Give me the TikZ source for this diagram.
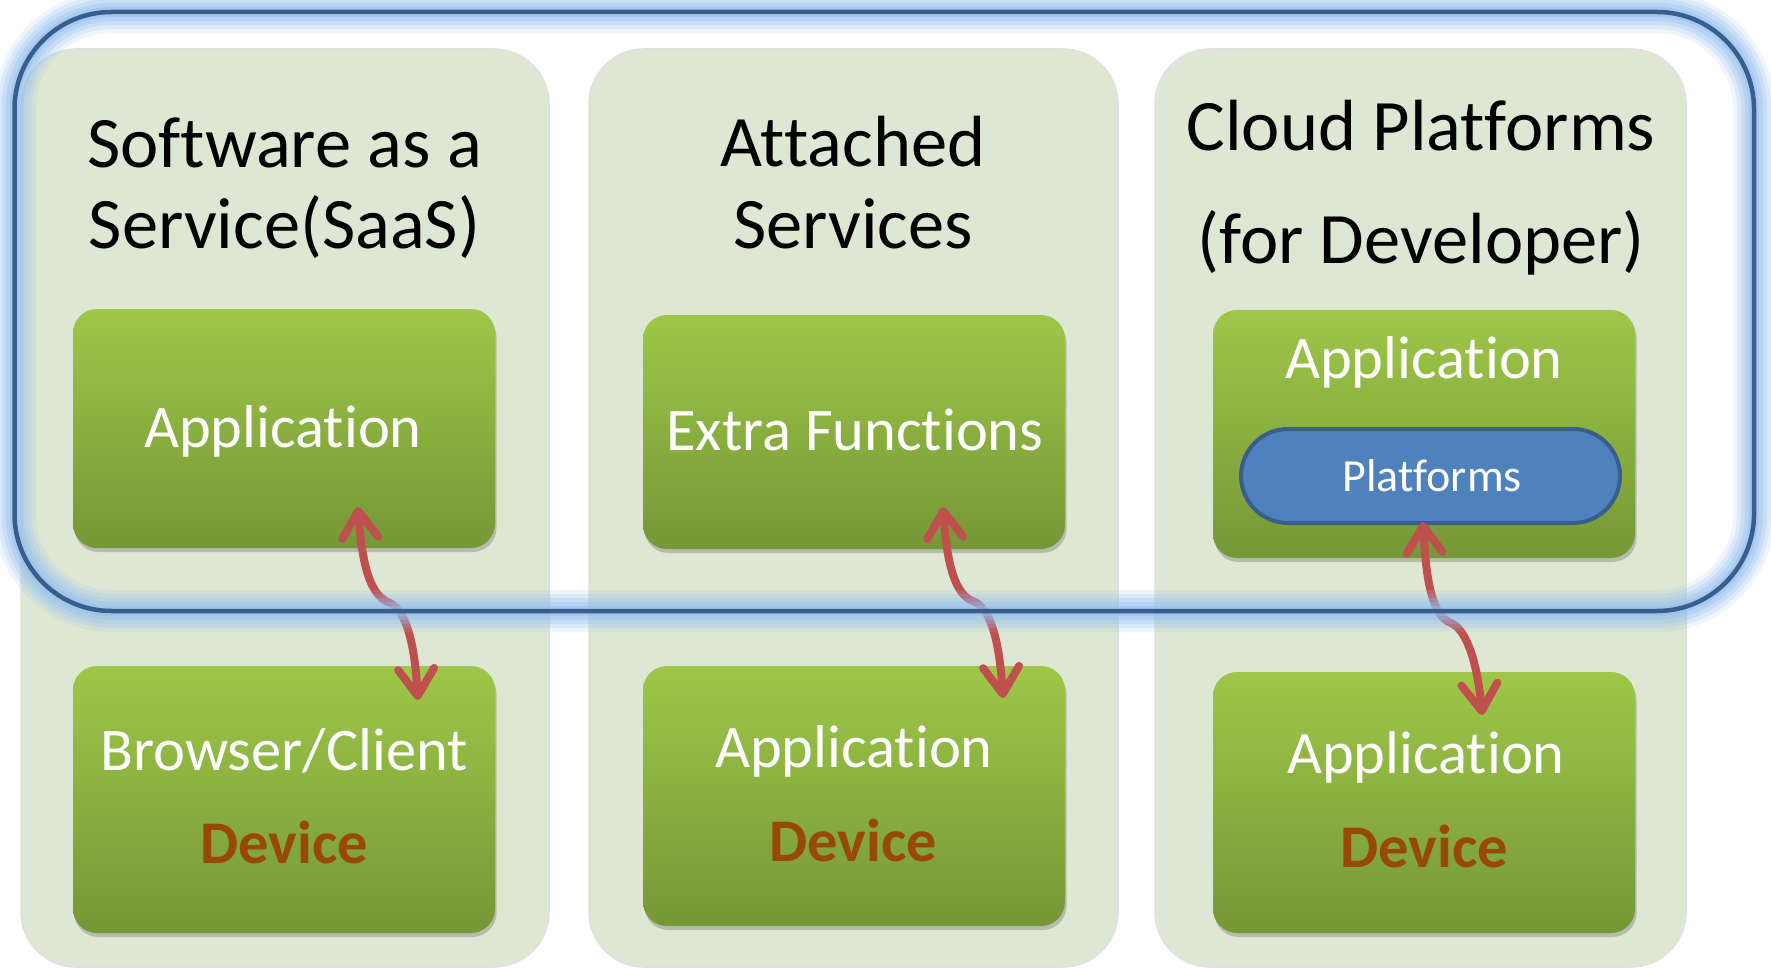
\documentclass[tikz,border=0pt]{standalone}
\usepackage{fontspec}
\setmainfont[Ligatures=NoCommon]{Carlito}
\usetikzlibrary{arrows.meta,shadows}
\definecolor{panelc}{RGB}{222,231,211}
\definecolor{gtop}{RGB}{158,199,72}
\definecolor{gbot}{RGB}{118,151,55}
\definecolor{arrc}{RGB}{192,80,77}
\definecolor{linec}{RGB}{58,94,140}
\definecolor{glowc}{RGB}{145,190,240}
\definecolor{pillc}{RGB}{79,129,189}
\definecolor{devc}{RGB}{152,72,7}
\tikzset{
  panel/.style={rectangle, rounded corners=55pt, fill=panelc, draw=black!12, line width=1.5pt, inner sep=0pt},
  gbox/.style={rectangle, rounded corners=24pt, top color=gtop, bottom color=gbot, draw=none, inner sep=0pt,
    minimum width=422pt,
    drop shadow={shadow xshift=1.5pt, shadow yshift=-4pt, opacity=0.28, fill=black!70}},
  pill/.style={rectangle, rounded corners=47pt, fill=pillc, draw=linec, line width=4pt, inner sep=0pt,
    minimum width=379pt, minimum height=94pt},
  head/.style={anchor=base, inner sep=0pt, text=black, font=\fontsize{72.5}{80}\selectfont},
  lbl/.style={anchor=base, inner sep=0pt, text=white, font=\fontsize{60.5}{66}\selectfont},
  dev/.style={anchor=base, inner sep=0pt, text=devc, font=\fontsize{60.5}{66}\selectfont\bfseries},
  plbl/.style={anchor=base, inner sep=0pt, text=white, font=\fontsize{46}{50}\selectfont},
  arr/.style={draw=arrc, line width=8pt, line cap=round, line join=round,
    arrows={Straight Barb[length=27pt,width=36pt,round]-Straight Barb[length=27pt,width=36pt,round]}},
  glow/.style={draw=glowc, rounded corners=97pt},
}
\begin{document}
\begin{tikzpicture}[x=1pt,y=-1pt]
\useasboundingbox (0,0) rectangle (1771,968);
\fill[white] (0,0) rectangle (1771,968);

% column panels
\node[panel, minimum width=528pt, minimum height=918pt] (p1) at (285,508) {};
\node[panel, minimum width=529pt, minimum height=918pt] (p2) at (853.5,508) {};
\node[panel, minimum width=531pt, minimum height=918pt] (p3) at (1420.5,508) {};

% headings
\node[head] (h1a) at (284.5,168) {Software as a};
\node[head] (h1b) at (284.5,249) {Service(SaaS)};
\node[head] (h2a) at (853,167) {Attached};
\node[head] (h2b) at (853,248) {Services};
\node[head] (h3a) at (1421,151) {Cloud Platforms};
\node[head] (h3b) at (1421,264) {(for Developer)};

% green boxes
\node[gbox, minimum height=239pt] (b1t) at (284,428.5) {};
\node[gbox, minimum height=234pt] (b2t) at (854,432) {};
\node[gbox, minimum height=248pt] (b3t) at (1424,434) {};
\node[gbox, minimum height=267pt] (b1b) at (284,799.5) {};
\node[gbox, minimum height=260pt] (b2b) at (854,796) {};
\node[gbox, minimum height=261pt] (b3b) at (1424,802.5) {};

\node[pill] (pl) at (1430.5,476) {};

% box labels
\node[lbl] (t1) at (283,447) {Application};
\node[lbl] (t2) at (855,450) {Extra Functions};
\node[lbl] (t3) at (1424,378) {Application};
\node[plbl] (t3p) at (1432,491) {Platforms};
\node[lbl] (u1) at (284,770) {Browser/Client};
\node[dev] (d1) at (284,863) {Device};
\node[lbl] (u2) at (854,767) {Application};
\node[dev] (d2) at (853,861) {Device};
\node[lbl] (u3) at (1426,773) {Application};
\node[dev] (d3) at (1424,867) {Device};

% connector end points
\coordinate (a1s) at (358,507);
\coordinate (a1k) at (390,603);
\coordinate (a1e) at (418,700);
\coordinate (a2s) at (943,507);
\coordinate (a2k) at (975,602);
\coordinate (a2e) at (1003,698);
\coordinate (a3s) at (1423,522);
\coordinate (a3k) at (1451,623);
\coordinate (a3e) at (1482,715);

\draw[arr] (a1s) .. controls (362,565) and (370,596) .. (a1k) .. controls (408,612) and (415,650) .. (a1e);
\draw[arr] (a2s) .. controls (947,565) and (955,596) .. (a2k) .. controls (993,611) and (1000,650) .. (a2e);
\draw[arr] (a3s) .. controls (1426,580) and (1432,616) .. (a3k) .. controls (1468,630) and (1478,668) .. (a3e);

% outer group outline with glow
\coordinate (onw) at (14.5,12);
\coordinate (ose) at (1754,611);
\draw[glow, line width=42pt, opacity=0.15] (onw) rectangle (ose);
\draw[glow, line width=34pt, opacity=0.2] (onw) rectangle (ose);
\draw[glow, line width=26pt, opacity=0.25] (onw) rectangle (ose);
\draw[glow, line width=18pt, opacity=0.32] (onw) rectangle (ose);
\draw[glow, line width=10pt, opacity=0.45] (onw) rectangle (ose);
\draw[draw=linec, line width=4.5pt, rounded corners=97pt] (onw) rectangle (ose);
\end{tikzpicture}
\end{document}
